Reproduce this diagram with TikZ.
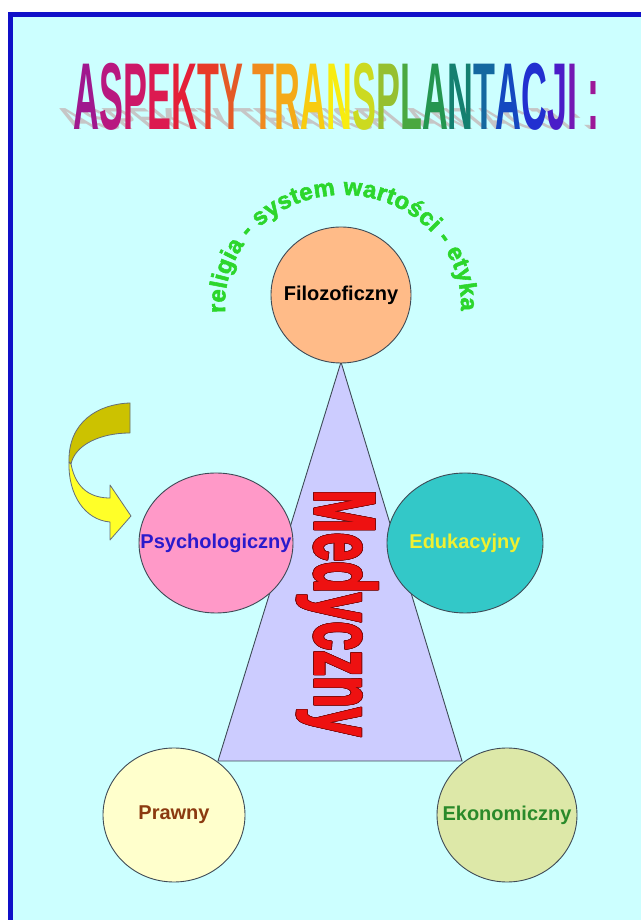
\documentclass[tikz,border=0pt]{standalone}
\usepackage{fontspec}
\setmainfont{Liberation Sans}
\newfontfamily\heavyfont[FakeBold=2.2]{Liberation Sans}
\usepackage{contour}
\usetikzlibrary{shapes.geometric,decorations.text,positioning}

\newcommand{\rbl}[2]{\textcolor[HTML]{#1}{#2}}
\newcommand{\aspekty}{\rbl{A0188E}{A}\rbl{B81880}{S}\rbl{CC1868}{P}\rbl{DC1A50}{E}\rbl{E42038}{K}\rbl{E83A28}{T}\rbl{E45A26}{Y}
  \rbl{F08A1E}{T}\rbl{F4AA18}{R}\rbl{F8CC10}{A}\rbl{F8EC10}{N}\rbl{CCDA20}{S}\rbl{96C030}{P}\rbl{4AA840}{L}\rbl{249650}{A}\rbl{148070}{N}\rbl{1468A0}{T}\rbl{1448C0}{A}\rbl{2230D0}{C}\rbl{4A1CC8}{J}\rbl{7418B4}{I}
  \rbl{9C1898}{:}}
\newcommand{\titlefont}{\fontsize{95}{100}\selectfont\bfseries}

\begin{document}
\begin{tikzpicture}[x=1pt,y=1pt,
    every node/.style={font=\fontsize{20}{24}\selectfont\bfseries},
    disc/.style={ellipse, draw=ink, line width=0.9pt, inner sep=0pt, fill=#1},
    arrowpart/.style={draw=ink!80, line width=0.8pt, line join=round, fill=#1}]
  \definecolor{ink}{HTML}{3E4A56}\definecolor{bgcyan}{HTML}{CCFFFF}\definecolor{frameblue}{HTML}{1010C8}
  \definecolor{cFil}{HTML}{FFBB88}\definecolor{cPsy}{HTML}{FF99C8}\definecolor{cEdu}{HTML}{33C8C8}
  \definecolor{cPra}{HTML}{FFFFCC}\definecolor{cEko}{HTML}{DDE8A8}\definecolor{cTri}{HTML}{CCCCFF}
  \definecolor{tPsy}{HTML}{2A1ACC}\definecolor{tEdu}{HTML}{F0F030}\definecolor{tPra}{HTML}{8B3A10}
  \definecolor{tEko}{HTML}{2A8A2A}\definecolor{arrBack}{HTML}{CCC200}\definecolor{arrFront}{HTML}{FFFF28}
  \definecolor{medred}{HTML}{EE1111}\definecolor{medline}{HTML}{7A0A0A}\definecolor{arcgreen}{HTML}{2CD62C}
  \useasboundingbox (0,0) rectangle (641,920);
  % page and frame
  \fill[white] (0,0) rectangle (641,920);
  \fill[bgcyan] (10,0) rectangle (641,905.5);
  \draw[frameblue, line width=5pt, line join=miter] (10,0) -- (10,905.5) -- (641,905.5);
  % title with its shadow
  \node[anchor=base, text=gray!45, xslant=-1.23, yscale=0.32, font=\titlefont] (shadow) at (336.5,790)
     {\scalebox{0.377}[1]{ASPEKTY TRANSPLANTACJI :}};
  \node[anchor=base, font=\titlefont] (title) at (336.5,790) {\scalebox{0.377}[1]{\aspekty}};
  % arc text over the top circle
  \coordinate (arcc) at (343,615);
  \path[decorate, decoration={text along path, text align=fit to path,
      text={|\heavyfont\fontsize{24}{26}\selectfont\bfseries\color{arcgreen}|religia - system wartości - etyka}}]
     ([shift={(184:118 and 110)}]arcc) arc[start angle=184, end angle=-3, x radius=118, y radius=110];
  % triangle
  \coordinate (apex) at (341,558);
  \coordinate (bl) at (218,159);
  \coordinate (br) at (462,159);
  \draw[draw=ink, line width=0.9pt, fill=cTri] (apex) -- (br) -- (bl) -- cycle;
  \node[rotate=-90, anchor=base, text=medred, font=\heavyfont\fontsize{86}{90}\selectfont\bfseries] (med) at (315,307)
     {\contourlength{0.8pt}\scalebox{0.6}[1]{\contour{medline}{Medyczny}}};
  % circles
  \node[disc=cFil, minimum width=140pt, minimum height=136pt, label={[text=black]center:Filozoficzny}] (filo) at (341,625) {};
  \node[disc=cPsy, minimum width=154pt, minimum height=140pt, label={[text=tPsy]center:Psychologiczny}] (psych) at (216,377) {};
  \node[disc=cEdu, minimum width=156pt, minimum height=140pt, label={[text=tEdu]center:Edukacyjny}] (eduk) at (465,377) {};
  \node[disc=cPra, minimum width=142pt, minimum height=134pt, label={[text=tPra]center:Prawny}] (prawny) at (174,105) {};
  \node[disc=cEko, minimum width=140pt, minimum height=134pt, label={[text=tEko]center:Ekonomiczny}] (ekon) at (507,105) {};
  % twisted yellow arrow
  \draw[arrowpart=arrBack] (130,517) .. controls (98,516) and (68,498) .. (69,458)
     -- (71,456) .. controls (75,475) and (100,487) .. (130,487) -- cycle;
  \draw[arrowpart=arrFront] (71,456) .. controls (76,430) and (92,422) .. (110,422)
     -- (110,435) -- (131,404) -- (110,380) -- (110,398) .. controls (85,400) and (68,425) .. (69,458) -- cycle;
\end{tikzpicture}
\end{document}
